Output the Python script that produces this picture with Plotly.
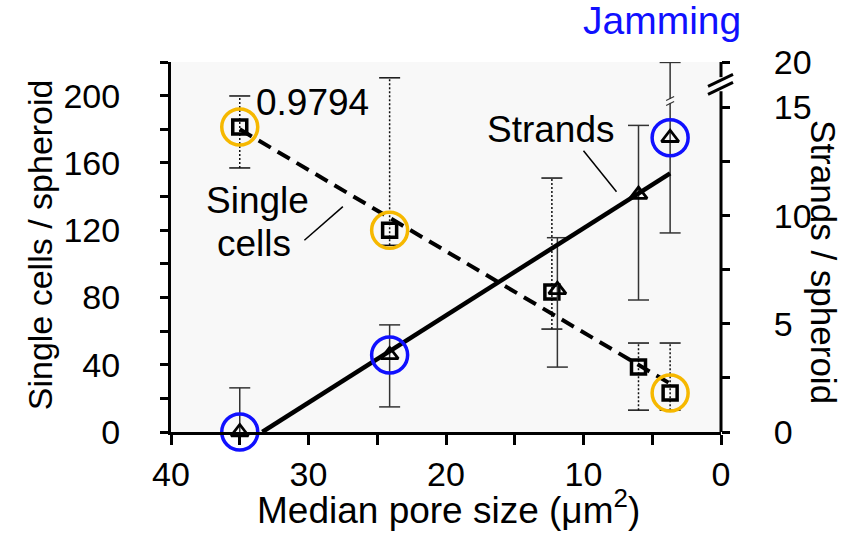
import numpy as np
import plotly.graph_objects as go

# ---------------- data ----------------
pore_single = [35.0, 24.1, 12.3, 6.0, 3.7]          # median pore size (um^2)
single_cells = [181.3, 120.0, 83.2, 38.6, 23.2]     # single cells / spheroid
single_err_up = [18.5, 90.6, 67.8, 14.3, 29.7]
single_err_down = [24.3, 9.0, 22.0, 25.6, 10.2]

pore_strands = [35.0, 24.1, 11.9, 6.0, 3.7]
strands = [0.0, 3.56, 6.57, 10.97, 13.6]            # strands / spheroid
strands_err_up = [2.04, 1.39, 2.41, 3.2, 3.48]
strands_err_down = [0.0, 2.4, 3.57, 4.87, 4.4]

highlight = [0, 1, 4]                               # circled conditions
x_ticks = [0, 10, 20, 30, 40]
y_ticks = [0, 40, 80, 120, 160, 200]
y2_tickvals = [0, 5, 10, 15, 17.1]                  # axis broken above 15
y2_ticktext = ["0", "5", "10", "15", "20"]
r_label = "0.9794"

FONT = "Arial, Liberation Sans, sans-serif"
GOLD = "#F6B800"
BLUE = "#1010FF"
INK = "#111111"
BAR = "#333333"
FS = 34      # tick labels
FA = 37      # in-plot labels

fig = go.Figure()

# ---- single-cell error bars (dotted) ----
ex, ey = [], []
for x, y, u, d in zip(pore_single, single_cells, single_err_up, single_err_down):
    ex += [x, x, None]
    ey += [y - d, y + u, None]
fig.add_trace(go.Scatter(x=ex, y=ey, mode="lines", yaxis="y",
                         line=dict(color=INK, width=1.5, dash="2px,2px"),
                         hoverinfo="skip", showlegend=False))
fig.add_trace(go.Scatter(
    x=pore_single + pore_single,
    y=[y + u for y, u in zip(single_cells, single_err_up)] +
      [y - d for y, d in zip(single_cells, single_err_down)],
    mode="markers", yaxis="y",
    marker=dict(symbol="line-ew-open", size=15, color=INK,
                line=dict(width=1.5, color=INK)),
    hoverinfo="skip", showlegend=False))

# ---- strands error bars (solid) ----
sx, sy = [], []
cx, cy = [], []
for x, y, u, d in zip(pore_strands, strands, strands_err_up, strands_err_down):
    sx += [x, x, None]
    sy += [y - d, y + u, None]
    cx += [x]
    cy += [y + u]
    if d > 0:
        cx += [x]
        cy += [y - d]
fig.add_trace(go.Scatter(x=sx, y=sy, mode="lines", yaxis="y2",
                         line=dict(color=BAR, width=1.5),
                         hoverinfo="skip", showlegend=False))
fig.add_trace(go.Scatter(x=cx, y=cy, mode="markers", yaxis="y2",
                         marker=dict(symbol="line-ew-open", size=15, color=BAR,
                                     line=dict(width=1.5, color=BAR)),
                         hoverinfo="skip", showlegend=False))

# ---- linear trend lines (least squares on the data) ----
ps = np.polyfit(pore_single, single_cells, 1)
xs = np.array([max(pore_single), min(pore_single)])
fig.add_trace(go.Scatter(x=xs, y=np.polyval(ps, xs), mode="lines", yaxis="y",
                         line=dict(color="black", width=4, dash="14px,8px"),
                         hoverinfo="skip", showlegend=False))
pt = np.polyfit(pore_strands, strands, 1)
x_root = -pt[1] / pt[0]
xt = np.array([min(x_root, max(pore_strands)), min(pore_strands)])
fig.add_trace(go.Scatter(x=xt, y=np.polyval(pt, xt), mode="lines", yaxis="y2",
                         line=dict(color="black", width=4.5),
                         hoverinfo="skip", showlegend=False))

# ---- data markers ----
fig.add_trace(go.Scatter(x=pore_single, y=single_cells, mode="markers", yaxis="y",
                         marker=dict(symbol="square-open", size=14, color="black",
                                     line=dict(width=3.5, color="black")),
                         showlegend=False))
fig.add_trace(go.Scatter(x=pore_strands, y=strands, mode="markers", yaxis="y2",
                         cliponaxis=False,
                         marker=dict(symbol="triangle-up-open", size=15, color="black",
                                     line=dict(width=2.8, color="black")),
                         showlegend=False))

# ---- highlight circles ----
fig.add_trace(go.Scatter(x=[pore_single[i] for i in highlight],
                         y=[single_cells[i] for i in highlight],
                         mode="markers", yaxis="y", cliponaxis=False,
                         marker=dict(symbol="circle-open", size=36, color=GOLD,
                                     line=dict(width=3.5, color=GOLD)),
                         hoverinfo="skip", showlegend=False))
fig.add_trace(go.Scatter(x=[pore_strands[i] for i in highlight],
                         y=[strands[i] for i in highlight],
                         mode="markers", yaxis="y2", cliponaxis=False,
                         marker=dict(symbol="circle-open", size=36, color=BLUE,
                                     line=dict(width=3.5, color=BLUE)),
                         hoverinfo="skip", showlegend=False))

tickfont = dict(family=FONT, size=FS, color="black")

# ---- shapes: right axis with break, leader lines ----
shapes = [
    dict(type="line", xref="paper", yref="y2", x0=1, x1=1, y0=0, y1=15.75,
         line=dict(color="black", width=3)),
    dict(type="line", xref="paper", yref="y2", x0=1, x1=1, y0=16.4, y1=17.1,
         line=dict(color="black", width=3)),
]
for off in (-4, 4):
    shapes.append(dict(type="line", xref="paper", yref="y2",
                       xsizemode="pixel", ysizemode="pixel",
                       xanchor=1, yanchor=16.07,
                       x0=-13, x1=12, y0=off - 6, y1=off + 6,
                       line=dict(color="black", width=3)))
# small break on the last strands error bar
shapes.append(dict(type="rect", xref="x", yref="y2", xsizemode="pixel", ysizemode="pixel",
                   xanchor=pore_strands[-1], yanchor=15.3, x0=-4, x1=4, y0=-2, y1=2,
                   fillcolor="#f8f8f8", line=dict(width=0)))
for off in (-2.5, 2.5):
    shapes.append(dict(type="line", xref="x", yref="y2", xsizemode="pixel", ysizemode="pixel",
                       xanchor=pore_strands[-1], yanchor=15.3,
                       x0=-4, x1=4, y0=off - 2, y1=off + 2,
                       line=dict(color=BAR, width=1.2)))
# leader lines
shapes.append(dict(type="line", xref="x", yref="y", x0=30.3, y0=114, x1=27.5, y1=134,
                   line=dict(color="black", width=1.5)))
shapes.append(dict(type="line", xref="x", yref="y2", x0=10.0, y0=13.0, x1=7.6, y1=11.1,
                   line=dict(color="black", width=1.5)))

def note(text, x, y, xref="paper", yref="paper", size=FA, color="black", angle=0):
    return dict(text=text, x=x, y=y, xref=xref, yref=yref, showarrow=False,
                xanchor="center", yanchor="middle", textangle=angle,
                font=dict(family=FONT, size=size, color=color))

annotations = [
    note("Jamming", 0.893, 1.111, size=39, color=BLUE),
    note(r_label, 29.7, 195.9, "x", "y"),
    note("Single", 33.7, 137.9, "x", "y"),
    note("cells", 34.0, 112.0, "x", "y"),
    note("Strands", 12.4, 13.96, "x", "y2"),
    note("Single cells / spheroid", -0.238, 0.505, size=34, angle=-90),
    note("Strands / spheroid", 1.185, 0.46, size=35, angle=90),
    note("Median pore size (μm<sup>2</sup>)", 0.505, -0.204, size=37),
]

fig.update_layout(
    width=854, height=533,
    margin=dict(l=171, r=133, t=62, b=101, pad=0),
    paper_bgcolor="white", plot_bgcolor="#f8f8f8",
    showlegend=False,
    xaxis=dict(range=[40, 0], tickvals=x_ticks, showgrid=False, zeroline=False,
               showline=True, linecolor="black", linewidth=3,
               ticks="outside", ticklen=10, tickwidth=2.5, tickcolor="black",
               minor=dict(dtick=5, ticks="outside", ticklen=10, tickwidth=2.5,
                          tickcolor="black", showgrid=False),
               tickfont=tickfont, ticklabelstandoff=0),
    yaxis=dict(range=[0, 220], tickvals=y_ticks, showgrid=False, zeroline=False,
               showline=True, linecolor="black", linewidth=3,
               ticks="outside", ticklen=8, tickwidth=2.5, tickcolor="black",
               minor=dict(dtick=20, ticks="outside", ticklen=8, tickwidth=2.5,
                          tickcolor="black", showgrid=False),
               tickfont=tickfont, ticklabelstandoff=33),
    yaxis2=dict(range=[0, 17.1], overlaying="y", side="right",
                tickvals=y2_tickvals, ticktext=y2_ticktext,
                showgrid=False, zeroline=False, showline=False,
                ticks="outside", ticklen=8, tickwidth=2.5, tickcolor="black",
                minor=dict(tickvals=[2.5, 7.5, 12.5], ticks="outside", ticklen=8,
                           tickwidth=2.5, tickcolor="black", showgrid=False),
                tickfont=tickfont, ticklabelstandoff=37),
    shapes=shapes,
    annotations=annotations,
)

fig.write_html("out.html")
